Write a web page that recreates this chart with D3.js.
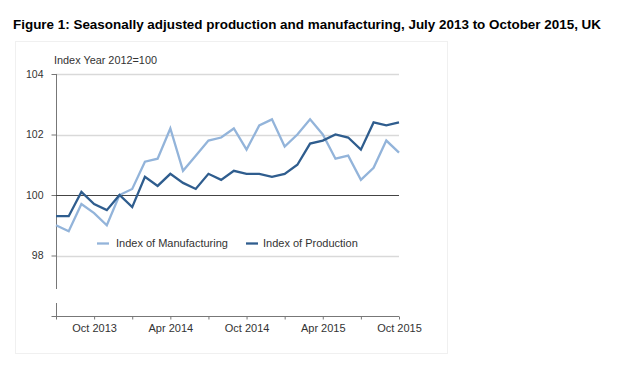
<!DOCTYPE html>
<html>
<head>
<meta charset="utf-8">
<script src="https://cdn.jsdelivr.net/npm/d3@7"></script>
<style>
  html, body { margin: 0; padding: 0; background: #fff; }
  svg { display: block; font-family: "Liberation Sans", Arial, sans-serif; }
</style>
</head>
<body>
<svg id="chart" width="620" height="367"></svg>
<script>
const months = ["Jul 2013","Aug 2013","Sep 2013","Oct 2013","Nov 2013","Dec 2013",
  "Jan 2014","Feb 2014","Mar 2014","Apr 2014","May 2014","Jun 2014",
  "Jul 2014","Aug 2014","Sep 2014","Oct 2014","Nov 2014","Dec 2014",
  "Jan 2015","Feb 2015","Mar 2015","Apr 2015","May 2015","Jun 2015",
  "Jul 2015","Aug 2015","Sep 2015","Oct 2015"];
const manufacturing = [99.0, 98.8, 99.7, 99.4, 99.0, 100.0, 100.2, 101.1, 101.2, 102.2, 100.8, 101.3,
  101.8, 101.9, 102.2, 101.5, 102.3, 102.5, 101.6, 102.0, 102.5, 102.0, 101.2, 101.3,
  100.5, 100.9, 101.8, 101.4];
const production = [99.3, 99.3, 100.1, 99.7, 99.5, 100.0, 99.6, 100.6, 100.3, 100.7, 100.4, 100.2,
  100.7, 100.5, 100.8, 100.7, 100.7, 100.6, 100.7, 101.0, 101.7, 101.8, 102.0, 101.9,
  101.5, 102.4, 102.3, 102.4];
const xTickMonths = ["Jul 2013","Oct 2013","Jan 2014","Apr 2014","Jul 2014","Oct 2014","Jan 2015","Apr 2015","Jul 2015","Oct 2015"];
const xTickLabels = ["","Oct 2013","","Apr 2014","","Oct 2014","","Apr 2015","","Oct 2015"];
const yTicks = [96, 98, 100, 102, 104];
const yTickLabels = ["", "98", "100", "102", "104"];
const gridValues = [98, 102, 104];
const seriesNames = ["Index of Manufacturing", "Index of Production"];
const seriesColors = ["#93b4da", "#2f5d8e"];

const svg = d3.select("#chart");

// faint frame
svg.append("rect").attr("x", 15.5).attr("y", 41.5).attr("width", 432).attr("height", 312)
  .attr("fill", "none").attr("stroke", "#f0f0f0").attr("stroke-width", 1);

// title
svg.append("text").attr("x", 13).attr("y", 28.5)
  .attr("font-size", 13).attr("font-weight", "bold").attr("fill", "#000")
  .attr("textLength", 588).attr("lengthAdjust", "spacingAndGlyphs")
  .text("Figure 1: Seasonally adjusted production and manufacturing, July 2013 to October 2015, UK");

const x = d3.scalePoint().domain(months).range([56, 399]);
const y = d3.scaleLinear().domain([96, 104]).range([316, 74]);

// gridlines
svg.append("g").selectAll("line").data(gridValues).join("line")
  .attr("x1", 56).attr("x2", 399)
  .attr("y1", d => Math.round(y(d)) + 0.5).attr("y2", d => Math.round(y(d)) + 0.5)
  .attr("stroke", "#d9d9d9").attr("stroke-width", 1.5);

// axis title
svg.append("text").attr("x", 54).attr("y", 64)
  .attr("font-size", 11).attr("fill", "#333")
  .attr("textLength", 103).attr("lengthAdjust", "spacingAndGlyphs")
  .text("Index Year 2012=100");

// y axis
const yAxis = d3.axisLeft(y).tickValues(yTicks).tickSize(5).tickPadding(8)
  .tickFormat((d, i) => yTickLabels[i]);
const gy = svg.append("g").attr("transform", "translate(56.5,0)").call(yAxis);
gy.select(".domain").remove();
gy.selectAll(".tick line").attr("stroke", "#777");
gy.selectAll(".tick text").attr("font-size", 10.5).attr("fill", "#333")
  .attr("font-family", "\"Liberation Sans\", Arial, sans-serif");
// y axis line with break
gy.append("line").attr("x1", 0).attr("x2", 0).attr("y1", y(104)).attr("y2", 289).attr("stroke", "#777");
gy.append("line").attr("x1", 0).attr("x2", 0).attr("y1", 303).attr("y2", y(96)).attr("stroke", "#777");

// x axis
const xAxis = d3.axisBottom(x).tickValues(xTickMonths).tickSize(3).tickPadding(5)
  .tickFormat((d, i) => xTickLabels[i]);
const gx = svg.append("g").attr("transform", `translate(0,${Math.round(y(96)) + 0.5})`).call(xAxis);
gx.select(".domain").attr("stroke", "#777").attr("d", `M${x(months[0])},0H${x(months[months.length-1])}`);
gx.selectAll(".tick line").attr("stroke", "#777");
gx.selectAll(".tick text").attr("font-size", 11).attr("fill", "#333")
  .attr("font-family", "\"Liberation Sans\", Arial, sans-serif");

// 100 baseline
svg.append("line").attr("x1", 56).attr("x2", 399)
  .attr("y1", Math.round(y(100)) + 0.5).attr("y2", Math.round(y(100)) + 0.5)
  .attr("stroke", "#444").attr("stroke-width", 1);

// lines
const line = d3.line().x((d, i) => x(months[i])).y(d => y(d));
[manufacturing, production].forEach((s, k) => {
  svg.append("path").datum(s).attr("d", line)
    .attr("fill", "none").attr("stroke", seriesColors[k]).attr("stroke-width", 2.3)
    .attr("stroke-linejoin", "miter");
});

// legend
const legendX = [97, 246];
const legendTextX = [116, 263];
seriesNames.forEach((n, k) => {
  svg.append("line").attr("x1", legendX[k]).attr("x2", legendX[k] + 12)
    .attr("y1", 243.5).attr("y2", 243.5)
    .attr("stroke", seriesColors[k]).attr("stroke-width", 2.3);
  svg.append("text").attr("x", legendTextX[k]).attr("y", 247)
    .attr("font-size", 11).attr("fill", "#333").text(n);
});
</script>
</body>
</html>
